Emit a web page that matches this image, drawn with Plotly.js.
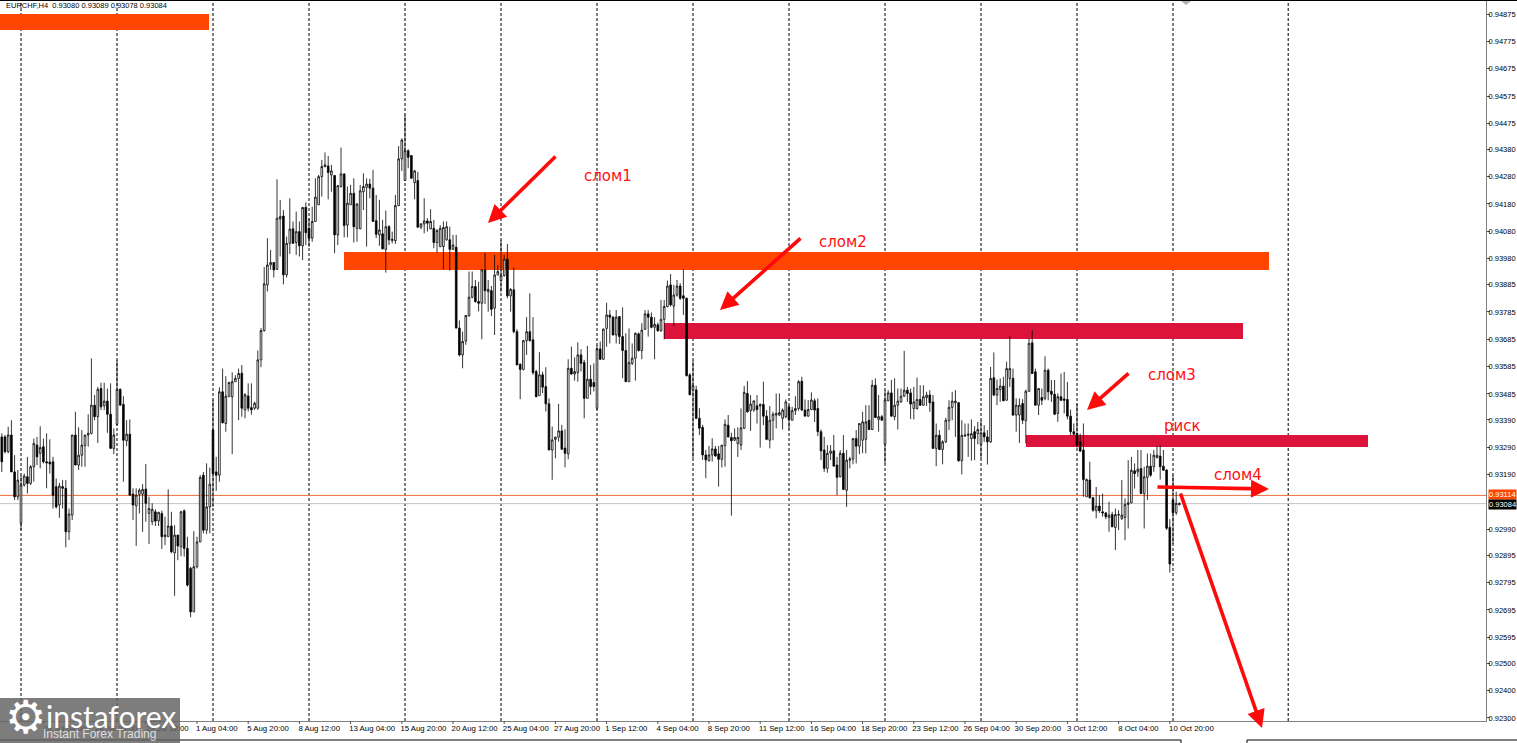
<!DOCTYPE html>
<html><head><meta charset="utf-8">
<script src="https://cdn.plot.ly/plotly-3.0.1.min.js"></script>
<style>html,body{margin:0;padding:0;background:#fff;overflow:hidden}#c{width:1517px;height:743px}</style>
</head><body><div id="c"></div>
<script>
// EURCHF H4 prices, in 1e-5 units
const highs=[
93341,93335,93365,93389,93261,93207,93188,93194,93255,93225,
93322,93328,93367,93322,93341,93319,93255,93176,93160,93170,
93170,93066,93335,93420,93363,93353,93335,93411,93615,93481,
93511,93526,93526,93505,93524,93359,93609,93505,93477,93389,
93392,93140,93140,93140,93155,93229,93109,93085,93063,93054,
93058,93036,93136,93054,93005,92969,93058,93063,92963,92853,
92983,92963,93188,93200,93231,93216,93465,93255,93509,93578,
93550,93530,93564,93554,93578,93591,93488,93524,93524,93457,
93644,93726,93949,94055,94012,93966,94270,94195,94158,94061,
94201,94116,94152,94116,94170,94186,94128,94170,94274,94286,
94341,94369,94356,94323,94286,94250,94386,94292,94244,94250,
94274,94183,94250,94292,94274,94272,94305,94213,94195,94122,
94156,94103,94079,94213,94392,94420,94506,94380,94359,94305,
94298,94110,94201,94128,94161,94122,94088,94103,94116,94116,
94097,94067,94067,93754,93713,93774,93933,93933,93902,93896,
93941,94002,93902,93880,93994,93957,94048,93994,94034,93872,
93948,93722,93597,93683,93766,93853,93766,93573,93638,93567,
93583,93469,93366,93329,93449,93372,93356,93612,93658,93619,
93674,93649,93610,93661,93591,93597,93664,93677,93725,93819,
93792,93770,93792,93770,93802,93707,93725,93670,93710,93710,
93744,93792,93792,93783,93766,93746,93829,93829,93900,93924,
93884,93902,93890,93941,93838,93561,93607,93515,93433,93372,
93280,93295,93323,93295,93295,93298,93392,93408,93343,93359,
93363,93432,93514,93532,93481,93460,93481,93450,93530,93426,
93441,93420,93487,93487,93432,93465,93444,93438,93477,93536,
93548,93465,93463,93491,93469,93469,93355,93328,93298,93298,
93335,93255,93280,93335,93280,93255,93322,93353,93377,93420,
93444,93444,93536,93542,93481,93408,93499,93499,93536,93542,
93505,93505,93643,93511,93505,93511,93545,93517,93517,93493,
93499,93481,93377,93353,93316,93398,93462,93493,93499,93456,
93389,93377,93377,93392,93367,93383,93389,93371,93353,93584,
93637,93538,93542,93548,93603,93696,93578,93469,93469,93466,
93501,93688,93718,93578,93505,93505,93623,93578,93536,93536,
93487,93560,93566,93529,93428,93377,93450,93340,93377,93176,
93237,93109,93145,93115,93121,93054,93091,93054,93066,93060,
93170,93103,93243,93255,93231,93280,93280,93219,93267,93267,
93280,93294,93298,93280,93209,93027,93189,93128,93089];
const lows=[
93200,93268,93268,93200,93097,93097,92987,93146,93121,93152,
93164,93225,93213,93231,93140,93194,93066,93066,93032,93066,
92924,92951,93024,93225,93207,93219,93219,93292,93337,93389,
93306,93426,93426,93343,93286,93265,93371,93444,93164,93294,
93115,93024,92929,93048,92981,93018,92936,93005,93002,93002,
92918,92932,92963,92902,92747,92877,92892,92890,92780,92668,
92688,92847,92944,92975,92973,92975,93072,93131,93164,93377,
93347,93475,93265,93530,93389,93402,93396,93421,93409,93427,
93427,93583,93713,93860,93939,93911,93939,93988,93886,93911,
93997,94034,93994,93988,93975,94030,94024,94042,94116,94177,
94207,94314,94197,94225,94000,94030,94240,94058,94058,94177,
94039,94042,94088,94158,94024,94201,94116,94055,94027,94014,
93929,94030,94036,94034,94173,94301,94266,94311,94274,94197,
94095,94088,94073,94079,94088,94018,94002,94022,93941,94046,
93936,94012,93726,93622,93579,93665,93768,93835,93819,93787,
93685,93814,93786,93770,93701,93920,93859,93914,93835,93786,
93707,93591,93466,93571,93628,93677,93555,93473,93479,93488,
93421,93280,93171,93250,93311,93280,93217,93246,93555,93534,
93530,93567,93396,93469,93482,93494,93427,93610,93610,93658,
93670,93699,93670,93668,93543,93530,93530,93591,93534,93640,
93612,93719,93695,93725,93612,93713,93713,93685,93802,93805,
93734,93841,93829,93774,93549,93482,93250,93393,93335,93244,
93177,93238,93238,93256,93146,93216,93219,93326,93040,93313,
93255,93280,93359,93416,93350,93420,93377,93289,93371,93316,
93286,93316,93359,93404,93355,93396,93355,93389,93408,93424,
93424,93404,93402,93426,93383,93331,93243,93200,93197,93243,
93221,93115,93180,93133,93072,93213,93228,93231,93265,93268,
93268,93353,93353,93398,93347,93389,93231,93460,93402,93389,
93355,93453,93475,93456,93393,93392,93428,93441,93441,93441,
93420,93286,93221,93280,93228,93306,93353,93389,93328,93237,
93191,93328,93255,93241,93243,93301,93249,93310,93227,93306,
93477,93444,93456,93459,93462,93511,93404,93347,93306,93375,
93304,93493,93558,93444,93408,93444,93462,93462,93456,93408,
93383,93459,93414,93392,93334,93334,93289,93273,93109,93109,
93103,93054,93030,93050,93036,93027,92981,92999,92914,92987,
93024,92950,92993,93085,93139,93182,93119,92993,93097,93182,
93200,93249,93172,93206,92988,92832,92936,93042,93078];
const bodyTops=[
93328,93328,93335,93335,93200,93170,93152,93185,93182,93219,
93304,93298,93289,93292,93237,93236,93237,93146,93148,93146,
93140,93046,93335,93335,93261,93298,93335,93341,93444,93444,
93502,93505,93459,93459,93411,93335,93502,93502,93447,93338,
93338,93119,93115,93133,93136,93137,93066,93063,93054,93052,
93048,92969,93002,93002,92969,92969,93054,93058,92920,92847,
92853,92944,93180,93188,93072,93155,93353,93200,93493,93493,
93477,93527,93530,93542,93560,93561,93482,93478,93435,93451,
93610,93717,93888,93957,93966,93966,94128,94134,94136,94036,
94088,94089,94079,94079,94167,94168,94091,94116,94205,94280,
94317,94323,94319,94301,94284,94247,94290,94290,94183,94219,
94219,94180,94228,94244,94253,94253,94238,94119,94085,94071,
94097,94097,94051,94174,94345,94414,94375,94375,94357,94301,
94266,94107,94118,94118,94116,94091,94083,94091,94094,94097,
94049,94030,94022,93726,93677,93772,93839,93878,93878,93823,
93939,93939,93868,93863,93920,93933,93918,93978,93978,93868,
93866,93713,93594,93680,93713,93713,93683,93567,93555,93555,
93512,93449,93317,93327,93350,93350,93287,93579,93579,93567,
93628,93628,93600,93539,93539,93527,93650,93650,93722,93774,
93774,93766,93766,93768,93695,93644,93600,93616,93707,93705,
93719,93778,93778,93766,93740,93738,93758,93805,93880,93884,
93847,93880,93880,93844,93835,93555,93515,93500,93396,93363,
93262,93262,93284,93284,93266,93298,93374,93371,93326,93326,
93326,93361,93491,93487,93448,93460,93442,93447,93447,93404,
93389,93411,93414,93417,93426,93456,93438,93424,93432,93530,
93532,93426,93428,93463,93460,93432,93347,93280,93268,93276,
93277,93225,93268,93268,93243,93247,93322,93322,93377,93383,
93383,93389,93517,93517,93402,93402,93463,93489,93489,93444,
93459,93477,93499,93499,93489,93456,93465,93465,93475,93481,
93481,93456,93334,93334,93310,93389,93436,93459,93459,93453,
93334,93334,93338,93340,93347,93355,93343,93343,93328,93542,
93544,93505,93514,93514,93578,93578,93542,93444,93444,93450,
93495,93670,93672,93566,93505,93472,93572,93572,93495,93484,
93475,93475,93467,93465,93404,93347,93340,93310,93280,93172,
93170,93105,93075,93075,93054,93050,93042,93044,93044,93044,
93042,93081,93087,93206,93204,93210,93212,93182,93221,93221,
93261,93261,93258,93221,93207,92997,93097,93085,93084];
const bodyBottoms=[
93237,93274,93274,93200,93109,93109,93012,93152,93158,93158,
93219,93255,93268,93237,93233,93229,93115,93072,93079,93140,
92981,92981,93042,93225,93225,93261,93296,93335,93341,93402,
93402,93438,93442,93411,93286,93286,93374,93444,93316,93314,
93115,93079,93076,93118,93119,93085,93048,93018,93020,93021,
92963,92963,92963,92908,92904,92929,92926,92920,92786,92688,
92688,92853,92944,92987,92987,93072,93194,93188,93188,93380,
93377,93475,93475,93530,93542,93433,93427,93433,93427,93433,
93433,93610,93717,93884,93957,93939,93941,94125,93921,93921,
94036,94036,94039,94027,94027,94075,94055,94055,94116,94177,
94280,94317,94295,94286,94067,94067,94244,94101,94103,94177,
94097,94091,94089,94225,94241,94238,94116,94069,94067,94016,
94014,94049,94046,94046,94174,94345,94266,94351,94274,94258,
94095,94095,94107,94110,94089,94039,94039,94024,94024,94049,
94014,94014,93726,93628,93628,93679,93771,93839,93823,93817,
93817,93863,93859,93795,93799,93920,93900,93918,93844,93844,
93713,93591,93575,93575,93680,93680,93563,93475,93479,93510,
93449,93280,93280,93319,93327,93283,93268,93266,93558,93558,
93563,93597,93469,93469,93512,93512,93433,93612,93612,93725,
93766,93701,93701,93695,93644,93530,93530,93597,93616,93644,
93644,93722,93766,93729,93729,93716,93716,93758,93805,93811,
93807,93847,93835,93835,93552,93482,93500,93396,93360,93262,
93244,93241,93262,93258,93246,93246,93296,93328,93314,93316,
93304,93298,93359,93420,93424,93426,93428,93441,93404,93319,
93316,93389,93408,93408,93396,93402,93392,93389,93424,93432,
93426,93404,93404,93428,93426,93347,93277,93213,93213,93268,
93221,93180,93182,93136,93133,93243,93247,93294,93294,93316,
93319,93355,93355,93399,93392,93389,93302,93460,93404,93402,
93444,93456,93477,93487,93448,93432,93432,93444,93444,93472,
93453,93286,93286,93282,93282,93310,93387,93436,93453,93241,
93241,93331,93334,93322,93322,93340,93301,93328,93310,93310,
93481,93481,93501,93460,93462,93542,93408,93408,93408,93389,
93387,93495,93560,93444,93444,93462,93469,93493,93484,93411,
93414,93462,93462,93404,93347,93338,93298,93276,93172,93109,
93105,93060,93058,93058,93050,93036,93033,92999,92997,93042,
93030,93033,93081,93087,93194,93200,93121,93121,93180,93188,
93219,93253,93219,93206,92994,92863,93051,93051,93080];
const rising=[
0,0,1,0,0,1,1,1,0,1, 1,0,1,0,0,0,0,0,1,0, 0,1,1,0,1,1,1,1,1,0, 1,0,1,0,0,1,1,0,0,1,
0,0,1,1,1,0,1,1,0,1, 0,1,1,0,1,0,1,0,0,0, 1,1,1,0,1,1,0,0,1,0, 1,1,1,1,1,0,1,0,0,1,
1,1,1,1,1,0,1,1,0,1, 1,0,1,0,1,0,0,1,1,1, 1,1,0,1,0,1,1,0,1,1, 0,1,1,1,1,0,0,0,1,0,
1,0,1,1,1,1,1,0,0,1, 0,1,1,0,1,0,1,1,1,1, 0,1,0,0,1,1,1,1,0,0, 1,0,1,0,1,1,1,1,0,1,
0,0,0,1,1,0,0,0,1,0, 0,0,1,1,1,0,0,1,0,1, 1,0,0,1,0,0,1,0,1,1, 0,0,1,0,0,0,1,1,1,0,
1,1,0,0,1,0,1,1,1,0, 1,1,0,0,0,0,1,0,0,0, 0,1,1,0,0,1,1,0,0,1, 1,1,1,0,1,1,0,1,0,0,
1,1,1,1,1,1,0,1,1,1, 0,0,1,1,0,0,0,0,1,1, 0,0,1,0,1,1,1,0,1,1, 1,0,1,0,1,0,1,1,0,1,
1,1,1,0,0,1,1,0,1,1, 0,0,1,0,1,1,1,1,1,0, 1,1,1,1,0,1,1,0,0,1, 0,1,1,0,1,1,0,1,1,0,
1,1,0,0,1,0,1,0,0,0, 1,0,0,0,0,0,0,0,0,1, 0,0,1,0,0,0,1,0,1,1, 1,1,1,1,0,1,0,1,1,0,
1,1,0,0,0,0,0,1,1];

const dateLabels=["17 Jul 2025","22 Jul 04:00","24 Jul 20:00","29 Jul 12:00","1 Aug 04:00","5 Aug 20:00","8 Aug 12:00","13 Aug 04:00","15 Aug 20:00","20 Aug 12:00","25 Aug 04:00","27 Aug 20:00","1 Sep 12:00","4 Sep 04:00","8 Sep 20:00","11 Sep 12:00","16 Sep 04:00","18 Sep 20:00","23 Sep 12:00","26 Sep 04:00","30 Sep 20:00","3 Oct 12:00","8 Oct 04:00","10 Oct 20:00"];
const dateBars=[-3,13,29,45,61,77,93,109,125,141,157,173,189,205,221,237,253,269,285,301,317,333,349,365];
const periodBars=[6,36,66,96,126,156,186,216,246,276,306,336,366,402];
const priceTicks=[0.94875,0.94775,0.94675,0.94575,0.94475,0.94380,0.94280,0.94180,0.94080,0.93980,0.93885,0.93785,0.93685,0.93585,0.93485,0.93390,0.93290,0.93190,0.92990,0.92895,0.92795,0.92695,0.92595,0.92500,0.92400,0.92300];
const header="EURCHF,H4  0.93080 0.93089 0.93078 0.93084";
const askPrice=0.93114, bidPrice=0.93084;

const W=1517,H=743,L=0,R=1486,T=1,B=721;
const px=x=>(x-L)/(R-L), py=y=>(B-y)/(B-T);
const barOf=x=>(x-1.8)/3.2;
const priceOf=y=>0.94875-(y-14)*0.00003658;

const xs=highs.map((_,i)=>i);
const opens=xs.map(i=>rising[i]?bodyBottoms[i]/1e5:bodyTops[i]/1e5);
const closes=xs.map(i=>rising[i]?bodyTops[i]/1e5:bodyBottoms[i]/1e5);

const trace={type:'candlestick',x:xs,open:opens,high:highs.map(v=>v/1e5),low:lows.map(v=>v/1e5),close:closes,
  increasing:{line:{color:'#000',width:0.8},fillcolor:'#fff'},
  decreasing:{line:{color:'#000',width:0.8},fillcolor:'#000'},
  whiskerwidth:0,hoverinfo:'skip',showlegend:false};

const ORANGE='#FF4500',CRIMSON='#DC143C',RED='#FF1010';
const rect=(x0,x1,y0,y1,c)=>({type:'rect',xref:'x',yref:'y',x0:barOf(x0),x1:barOf(x1),y0:priceOf(y0),y1:priceOf(y1),fillcolor:c,line:{width:0},layer:'below'});
const shapes=[];
periodBars.forEach(b=>shapes.push({type:'line',xref:'x',yref:'paper',x0:b,x1:b,y0:0,y1:1,line:{color:'#000',width:1,dash:'3px,2px'},layer:'below'}));
shapes.push({type:'line',xref:'paper',yref:'y',x0:0,x1:1,y0:askPrice,y1:askPrice,line:{color:'#F0703C',width:1},layer:'below'});
shapes.push({type:'line',xref:'paper',yref:'y',x0:0,x1:1,y0:bidPrice,y1:bidPrice,line:{color:'#C4C4C4',width:1},layer:'below'});
shapes.push(rect(0,209,14,30,ORANGE),rect(344,1269,252,270,ORANGE),rect(664,1243,323,339,CRIMSON),rect(1026,1368,435,447,CRIMSON));
dateBars.forEach(b=>shapes.push({type:'line',xref:'x',yref:'paper',x0:b,x1:b,y0:py(721),y1:py(724),line:{color:'#555',width:1}}));
const pl=(x0,y0,x1,y1,c,w)=>({type:'line',xref:'paper',yref:'paper',x0:px(x0),x1:px(x1),y0:py(y0),y1:py(y1),line:{color:c,width:w},layer:'above'});
shapes.push(pl(0,0.5,1517,0.5,'#000',1));
shapes.push(pl(0,740,1181,740,'#000',1.2),pl(1181,740,1181,743,'#000',1),pl(1247,740,1517,740,'#000',1.2),pl(1247,740,1247,743,'#000',1));
shapes.push({type:'path',xref:'paper',yref:'paper',path:`M ${px(1181)} ${py(1)} L ${px(1191)} ${py(1)} L ${px(1186)} ${py(5)} Z`,fillcolor:'#B0B0B0',line:{width:0},layer:'above'});
shapes.push({type:'rect',xref:'paper',yref:'paper',x0:0,x1:px(180),y0:py(698),y1:py(743),fillcolor:'rgba(100,100,100,0.84)',line:{width:0},layer:'above'});

const LF='"Liberation Sans",Arial,sans-serif', DF='"DejaVu Sans",sans-serif';
const label=(t,x,y,size,color,extra)=>Object.assign({xref:'paper',yref:'paper',x:px(x),y:py(y),text:t,showarrow:false,xanchor:'center',yanchor:'middle',font:{family:DF,size:size,color:color}},extra||{});
const arrow=(x0,y0,x1,y1)=>({xref:'paper',yref:'paper',x:px(x1),y:py(y1),axref:'pixel',ayref:'pixel',ax:x0-x1,ay:y0-y1,text:'',showarrow:true,arrowhead:2,arrowsize:1,arrowwidth:3.6,arrowcolor:'#FF0A0A'});
const annotations=[
  label(header,4,6,7.5,'#000',{xanchor:'left',font:{family:LF,size:7.5,color:'#000'}}),
  label('слом1',608,176,15,RED),label('слом2',843,242,15,RED),label('слом3',1172,375,15,RED),
  label('риск',1182,426,15,RED),label('слом4',1238,475,15,RED),
  arrow(557,155,488,223),arrow(802,237,720,310),arrow(1130,372,1087,410),arrow(1156,487,1269,489),arrow(1180,492,1262,728),
  label(askPrice.toFixed(5),1503,494.5,7.5,'#fff',{bgcolor:'#FF4500',borderpad:0,font:{family:LF,size:7.5,color:'#fff'}}),
  label(bidPrice.toFixed(5),1503,504,7.5,'#fff',{bgcolor:'#000',borderpad:0,font:{family:LF,size:7.5,color:'#fff'}}),
  label('⚙',25,717,46,'#fff'),
  label('instaforex',111,716,30,'#fff',{font:{family:'Lato,sans-serif',size:30,color:'#fff'}}),
  label('Instant Forex Trading',99,733.5,12,'#ddd',{font:{family:LF,size:12,color:'#ddd'}})
];

const layout={width:W,height:H,margin:{l:L,r:W-R,t:T,b:H-B,pad:0},paper_bgcolor:'#fff',plot_bgcolor:'#fff',showlegend:false,
  xaxis:{type:'linear',range:[barOf(L),barOf(R)],rangeslider:{visible:false},showgrid:false,zeroline:false,showline:true,linecolor:'#808080',linewidth:1,
    tickmode:'array',tickvals:dateBars.map((b,i)=>b+dateLabels[i].length*1.8/3.2),ticktext:dateLabels,ticks:'',ticklen:0,tickangle:0,
    tickfont:{family:LF,size:7.8,color:'#000'},automargin:false},
  yaxis:{side:'right',range:[priceOf(B),priceOf(T)],showgrid:false,zeroline:false,showline:true,linecolor:'#808080',linewidth:1,
    tickmode:'array',tickvals:priceTicks,ticktext:priceTicks.map(v=>v.toFixed(5)),ticks:'outside',ticklen:3,tickcolor:'#555',ticklabelstandoff:-3,
    tickfont:{family:LF,size:7.5,color:'#000'},automargin:false},
  boxgap:0.25,shapes:shapes,annotations:annotations,dragmode:false,hovermode:false};
Plotly.newPlot('c',[trace],layout,{displayModeBar:false,staticPlot:true,responsive:false});
</script></body></html>
